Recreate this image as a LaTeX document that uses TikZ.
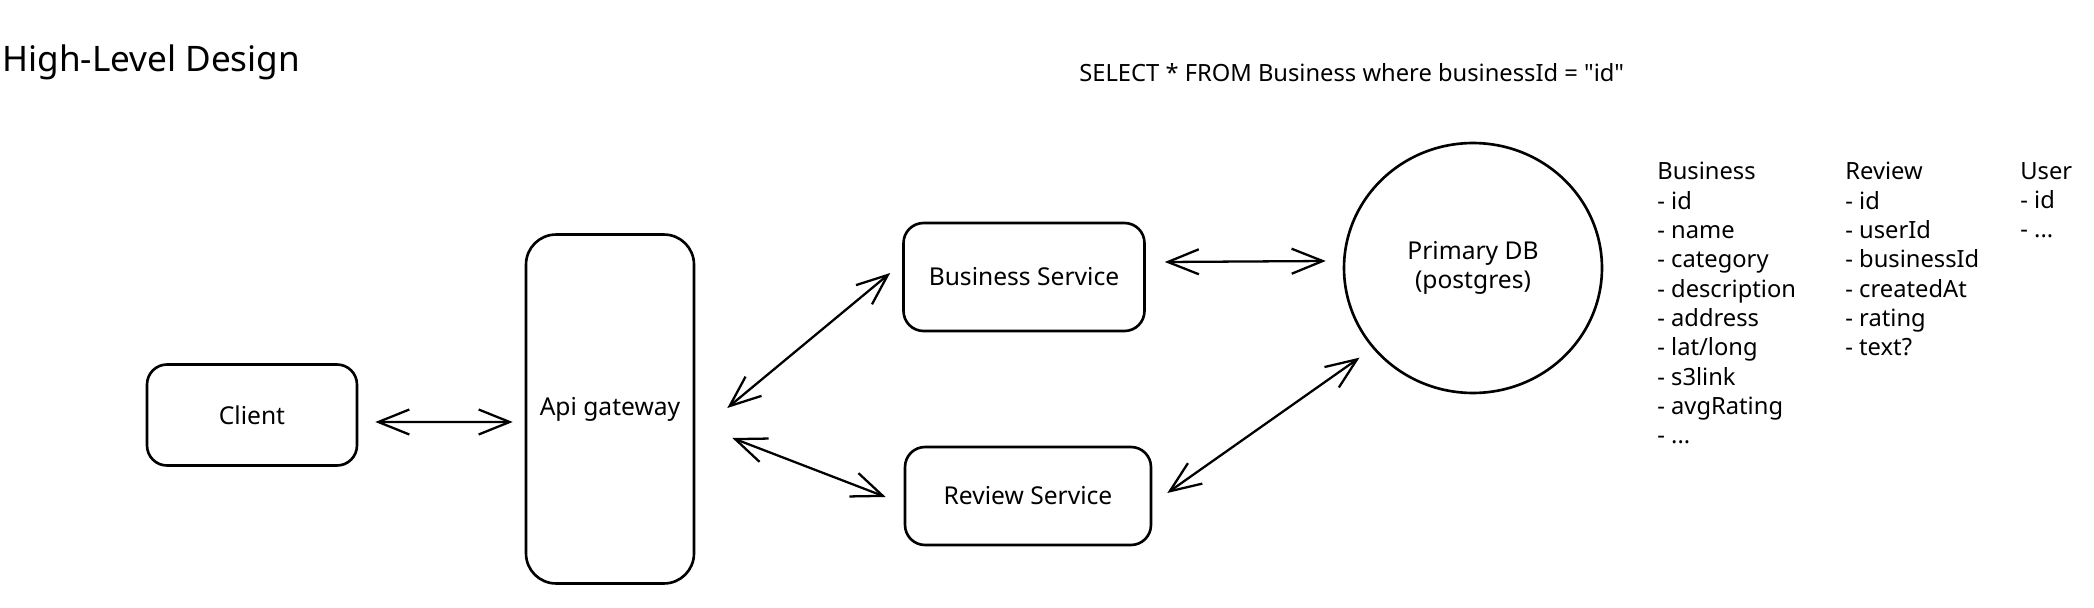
\documentclass[tikz,border=0pt]{standalone}
\usepackage{fontspec}
\setmainfont{Noto Sans}
\usetikzlibrary{arrows.meta}
\usetikzlibrary{shapes.geometric}

\begin{document}
\begin{tikzpicture}[x=0.02cm,y=-0.02cm,
    every node/.style={font=\fontsize{14}{16.7}\selectfont},
    box/.style={draw=black,line width=1.5pt,rounded corners=0.4cm},
    list/.style={anchor=north west,align=left,inner sep=0pt,font=\fontsize{13.5}{16.7}\selectfont},
    every edge/.style={draw=black,line width=1.3pt},
    >={Straight Barb[length=0.62cm,width=0.5cm]}]
    \useasboundingbox[fill=white] (0,0) rectangle (2094,608);
    \node[anchor=base west,inner sep=0pt,font=\fontsize{20}{24}\selectfont] (title) at (2,72) {High-Level Design};
    \node[anchor=base west,inner sep=0pt,font=\fontsize{13.5}{16.7}\selectfont] (query) at (1079,82) {SELECT * FROM Business where businessId = \textquotedbl id\textquotedbl};
    \node[box,minimum width=4.2cm,minimum height=2.02cm] (client) at (252,415) {Client};
    \node[box,rounded corners=0.6cm,minimum width=3.36cm,minimum height=6.98cm] (api) at (610,409) {Api gateway};
    \node[box,minimum width=4.82cm,minimum height=2.16cm] (bsvc) at (1024,277) {Business Service};
    \node[box,minimum width=4.92cm,minimum height=1.96cm] (rsvc) at (1028,496) {Review Service};
    \node[shape=ellipse,draw=black,line width=1.5pt,inner sep=0pt,minimum width=5.16cm,minimum height=5.0cm,align=center] (db) at (1473,268) {Primary DB\\(postgres)};
    % tables
    \node[list] (bizcols) at (1657,162) {Business\\- id\\- name\\- category\\- description\\- address\\- lat/long\\- s3link\\- avgRating\\- ...};
    \node[list] (revcols) at (1845,162) {Review\\- id\\- userId\\- businessId\\- createdAt\\- rating\\- text?};
    \node[list] (usercols) at (2020,162) {User\\- id\\- ...};
    \path [<->] ([xshift=.34cm,yshift=-.14cm]client.east) edge ([xshift=-.24cm,yshift=-.26cm]api.west);
    \path [<->] ([xshift=.64cm,yshift=.02cm]api.east) edge ([xshift=-.24cm,yshift=.08cm]bsvc.west);
    \path [<->] ([xshift=.74cm,yshift=-.58cm]api.east) edge ([xshift=-.36cm,yshift=-.02cm]rsvc.west);
    \path [<->] ([xshift=.38cm,yshift=.30cm]bsvc.east) edge ([xshift=-.34cm,yshift=.14cm]db.west);
    \path [<->] ([xshift=.30cm,yshift=.06cm]rsvc.east) edge ([xshift=-.30cm,yshift=-.14cm]db.220);
\end{tikzpicture}
\end{document}
